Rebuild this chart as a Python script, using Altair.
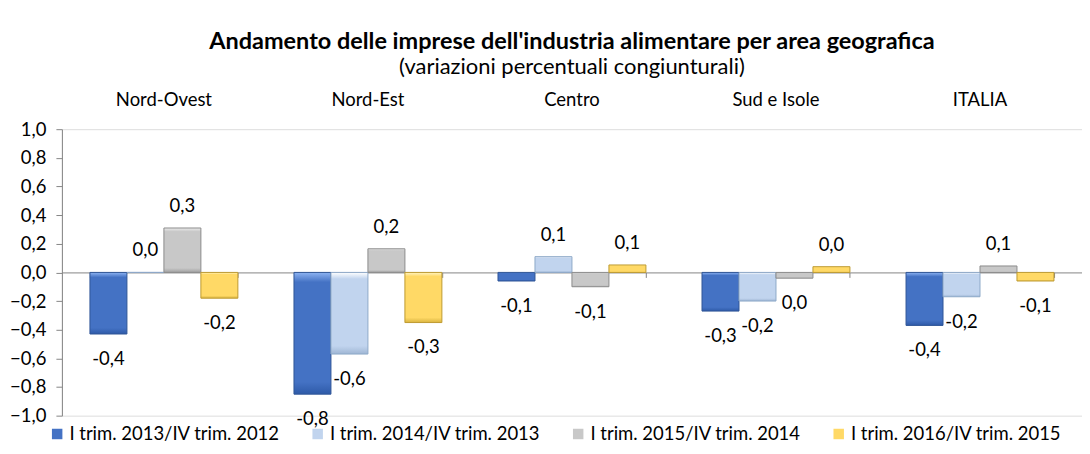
import altair as alt
import pandas as pd

regions = ["Nord-Ovest", "Nord-Est", "Centro", "Sud e Isole", "ITALIA"]
series = [
    "I trim. 2013/IV trim. 2012",
    "I trim. 2014/IV trim. 2013",
    "I trim. 2015/IV trim. 2014",
    "I trim. 2016/IV trim. 2015",
]
v2013 = [-0.43, -0.85, -0.06, -0.27, -0.37]
v2014 = [0.0, -0.57, 0.11, -0.20, -0.17]
v2015 = [0.31, 0.165, -0.10, -0.04, 0.045]
v2016 = [-0.18, -0.35, 0.052, 0.04, -0.06]
l2013 = ["-0,4", "-0,8", "-0,1", "-0,3", "-0,4"]
l2014 = ["0,0", "-0,6", "0,1", "-0,2", "-0,2"]
l2015 = ["0,3", "0,2", "-0,1", "0,0", "0,1"]
l2016 = ["-0,2", "-0,3", "0,1", "0,0", "-0,1"]
y_ticks = [-1.0, -0.8, -0.6, -0.4, -0.2, 0.0, 0.2, 0.4, 0.6, 0.8, 1.0]

base_colors = ["#4472C4", "#C1D4EE", "#C8C8C8", "#FFD966"]
stroke_colors = ["#2F5597", "#8EA9C8", "#8C8C8C", "#BF9B30"]
light_colors = ["#8DB3F2", "#FFFFFF", "#EDEDED", "#FFF4C2"]
dark_colors = ["#2E5AA8", "#9FB6D4", "#A0A0A0", "#D9B440"]

rows = []
for s, vals, labs in zip(series, [v2013, v2014, v2015, v2016], [l2013, l2014, l2015, l2016]):
    for r, v, l in zip(regions, vals, labs):
        rows.append({"region": r, "series": s, "value": v, "label": l})
df = pd.DataFrame(rows)

FONT = "Lato"
FS = 18.5

x_axis = alt.Axis(
    orient="bottom", offset=-143.5, labels=False, title=None,
    tickBand="extent", tickSize=5, domainColor="#868686",
    tickColor="#868686", grid=False,
)
x_enc = alt.X(
    "region:N",
    sort=regions,
    scale=alt.Scale(paddingInner=0.275, paddingOuter=0.1375),
    axis=x_axis,
)
xo_enc = alt.XOffset("series:N", sort=series,
                     scale=alt.Scale(domain=series, paddingInner=0, paddingOuter=0))
y_scale = alt.Scale(domain=[-1, 1], nice=False)
y_axis = alt.Axis(
    values=y_ticks, title=None,
    labelExpr="replace(format(datum.value, '.1f'), '.', ',')",
    labelFont=FONT, labelFontSize=FS, labelColor="black", labelPadding=10,
    labelOverlap=False, tickCount=11,
    domainColor="#868686", tickColor="#868686", tickSize=6,
    gridColor="#E4E4E4", minExtent=50, maxExtent=50,
)
y_enc = alt.Y("value:Q", scale=y_scale, axis=y_axis)

base = alt.Chart(df)

legend_layer = base.mark_bar().encode(
    x=x_enc,
    xOffset=xo_enc,
    y=alt.Y(datum=0, scale=y_scale, axis=y_axis),
    color=alt.Color(
        "series:N",
        sort=series,
        scale=alt.Scale(domain=series, range=base_colors),
        legend=alt.Legend(
            orient="none", legendX=-14, legendY=296, direction="horizontal",
            columns=4, title=None, symbolType="square", symbolSize=110,
            symbolStrokeWidth=0, labelFont=FONT, labelFontSize=FS,
            labelColor="black", labelOffset=3, columnPadding=28, labelLimit=400,
        ),
    ),
)

bar_layers = []
for i, s in enumerate(series):
    grad = alt.Gradient(
        gradient="linear",
        stops=[
            alt.GradientStop(color=light_colors[i], offset=0),
            alt.GradientStop(color=base_colors[i], offset=0.08),
            alt.GradientStop(color=base_colors[i], offset=0.9),
            alt.GradientStop(color=dark_colors[i], offset=1),
        ],
        x1=0, x2=0, y1=0, y2=1,
    )
    bar_layers.append(
        base.transform_filter(alt.datum.series == s)
        .mark_bar(color=grad, stroke=stroke_colors[i], strokeWidth=1)
        .encode(x=x_enc, xOffset=xo_enc, y=y_enc)
    )

pos_labels = base.transform_filter(alt.datum.value >= 0).mark_text(
    font=FONT, fontSize=FS, color="black", baseline="middle", dy=-22
).encode(x=x_enc, xOffset=xo_enc, y=y_enc, text="label:N")

neg_labels = base.transform_filter(alt.datum.value < 0).mark_text(
    font=FONT, fontSize=FS, color="black", baseline="middle", dy=25
).encode(x=x_enc, xOffset=xo_enc, y=y_enc, text="label:N")

cat_df = pd.DataFrame({"region": regions})
cat_labels = alt.Chart(cat_df).mark_text(
    font=FONT, fontSize=FS, color="black", baseline="middle"
).encode(x=x_enc, y=alt.value(-29), text="region:N")

chart = alt.layer(
    legend_layer, *bar_layers, pos_labels, neg_labels, cat_labels
).properties(
    width=1022,
    height=287,
    padding={"left": 54, "top": 121, "right": 0, "bottom": 30},
    autosize=alt.AutoSizeParams(type="none"),
    title=alt.TitleParams(
        text="Andamento delle imprese dell'industria alimentare per area geografica",
        subtitle="(variazioni percentuali congiunturali)",
        font=FONT, fontSize=23.5, fontWeight="bold", color="black",
        subtitleFont=FONT, subtitleFontSize=22, subtitleColor="black",
        anchor="middle", offset=13, subtitlePadding=4,
    ),
).configure_view(stroke=None).configure(background="white")

chart.save("out.html", embed_options={"renderer": "svg", "actions": False})
